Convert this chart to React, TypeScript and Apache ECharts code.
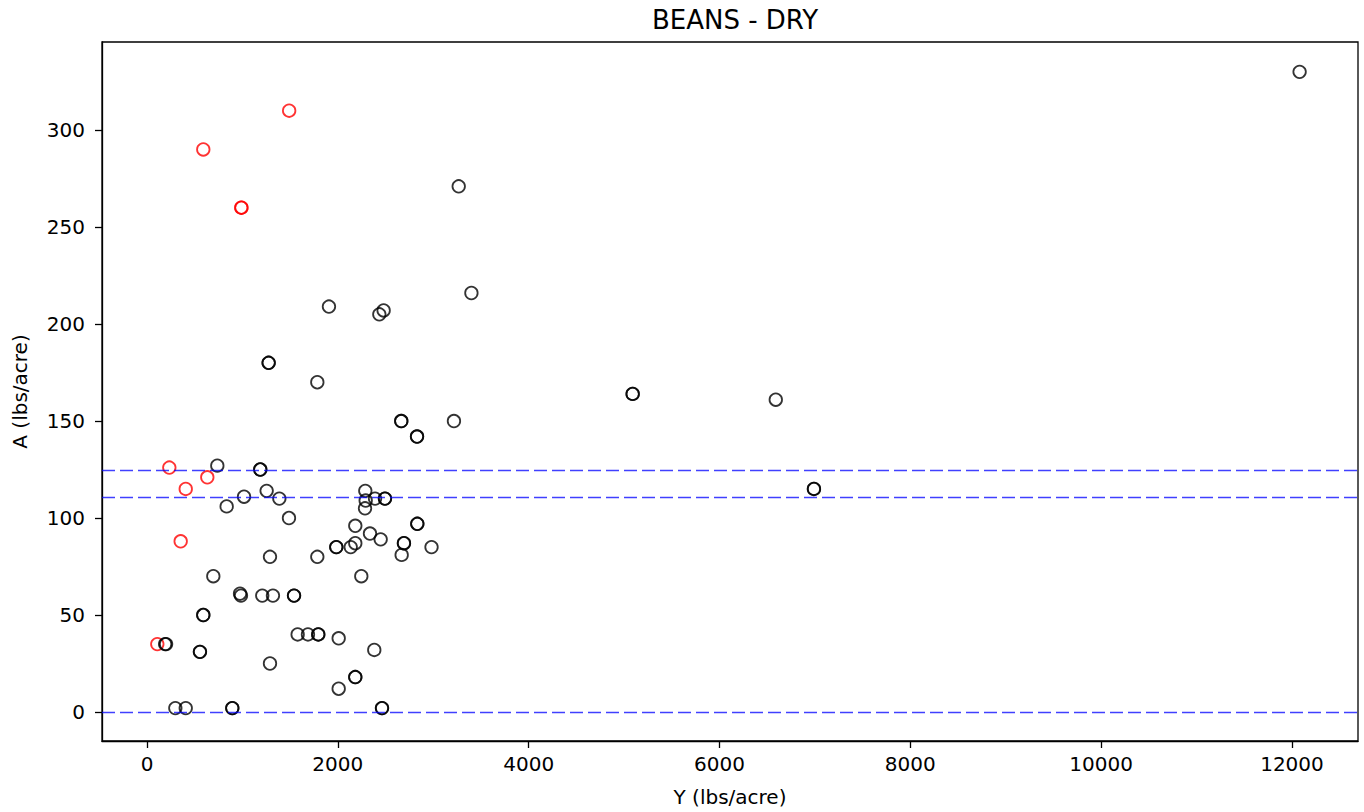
import React, { useEffect, useRef } from "react";
import * as echarts from "echarts";

const titleText = "BEANS - DRY";
const xName = "Y (lbs/acre)";
const yName = "A (lbs/acre)";

const xTicks = [0, 2000, 4000, 6000, 8000, 10000, 12000];
const yTicks = [0, 50, 100, 150, 200, 250, 300];

const thresholdLines = [124.7, 110.5, 0];

const redX = [1490, 590, 988, 990, 234, 632, 406, 353, 108];
const redY = [310, 290, 260, 260, 126, 121, 115, 88, 35];

const blackX = [
  12080, 3267, 3400, 1907, 2435, 2480, 1275, 1275, 1785, 5090, 5090, 6590,
  2665, 2665, 3217, 2830, 2830, 737, 1187, 1187, 6990, 6990, 1254, 1017,
  1387, 835, 1488, 2288, 2292, 2285, 2390, 2494, 2494, 2183, 2337, 2449,
  2833, 2833, 2693, 2693, 2669, 2982, 1984, 1984, 2135, 2183, 1785, 1289,
  695, 2246, 975, 985, 1208, 1320, 1541, 1541, 590, 590, 190, 200,
  555, 555, 1579, 1687, 1795, 1795, 2009, 2382, 1289, 2183, 2183, 2009,
  297, 406, 894, 894, 2463, 2463,
];
const blackY = [
  330, 271, 216, 209, 205, 207, 180, 180, 170, 164, 164, 161,
  150, 150, 150, 142, 142, 127, 125, 125, 115, 115, 114, 111,
  110, 106, 100, 114, 109, 105, 110, 110, 110, 96, 92, 89,
  97, 97, 87, 87, 81, 85, 85, 85, 85, 87, 80, 80,
  70, 70, 61, 60, 60, 60, 60, 60, 50, 50, 35, 35,
  31, 31, 40, 40, 40, 40, 38, 32, 25, 18, 18, 12,
  2, 2, 2, 2, 2, 2,
];

const FONT = "DejaVu Sans";

export default function App() {
  const ref = useRef<HTMLDivElement>(null);
  useEffect(() => {
    if (!ref.current) return;
    const chart = echarts.init(ref.current, null, { renderer: "svg" });
    const redData = redX.map((x, i) => [x, redY[i]]);
    const blackData = blackX.map((x, i) => [x, blackY[i]]);
    const axisCommon = {
      splitLine: { show: false },
      axisLine: { show: true, onZero: false, lineStyle: { color: "#000", width: 1.3 } },
      axisTick: { show: true, inside: false, length: 7, lineStyle: { color: "#000", width: 1.3 } },
      nameTextStyle: { color: "#000", fontSize: 20, fontFamily: FONT },
    };
    chart.setOption({
      animation: false,
      backgroundColor: "#fff",
      title: {
        text: titleText,
        left: 730,
        textAlign: "center",
        top: 2,
        textStyle: { color: "#000", fontSize: 26, fontWeight: "normal", fontFamily: FONT },
      },
      grid: {
        left: 102,
        right: 6,
        top: 42,
        bottom: 71,
        show: true,
        borderColor: "#000",
        borderWidth: 1.3,
        backgroundColor: "transparent",
      },
      xAxis: {
        type: "value",
        min: -471.6,
        max: 12692,
        name: xName,
        nameLocation: "middle",
        nameGap: 46,
        ...axisCommon,
        axisTick: { ...axisCommon.axisTick, customValues: xTicks },
        axisLabel: {
          customValues: xTicks,
          formatter: (v: number) => String(v),
          color: "#000",
          fontSize: 20,
          fontFamily: FONT,
          margin: 13,
        },
      },
      yAxis: {
        type: "value",
        min: -14.95,
        max: 345.4,
        name: yName,
        nameLocation: "middle",
        nameGap: 72,
        ...axisCommon,
        axisTick: { ...axisCommon.axisTick, customValues: yTicks },
        axisLabel: {
          customValues: yTicks,
          formatter: (v: number) => String(v),
          color: "#000",
          fontSize: 20,
          fontFamily: FONT,
          margin: 17,
        },
      },
      series: [
        {
          type: "scatter",
          name: "red",
          data: redData,
          symbol: "circle",
          symbolSize: 12.5,
          itemStyle: { color: "rgba(0,0,0,0)", borderColor: "#ff0000", borderWidth: 1.8 },
          markLine: {
            silent: true,
            symbol: ["none", "none"],
            label: { show: false },
            lineStyle: { color: "rgba(0,0,255,0.75)", width: 1.3, type: [13, 5] },
            data: thresholdLines.map((v) => ({ yAxis: v })),
          },
        },
        {
          type: "scatter",
          name: "black",
          data: blackData,
          symbol: "circle",
          symbolSize: 12.5,
          itemStyle: { color: "rgba(0,0,0,0)", borderColor: "#000", borderWidth: 1.8 },
        },
      ],
    });
    return () => chart.dispose();
  }, []);
  return (
    <div
      ref={ref}
      style={{ position: "fixed", left: 0, top: 0, width: 1364, height: 812, background: "#fff" }}
    />
  );
}
